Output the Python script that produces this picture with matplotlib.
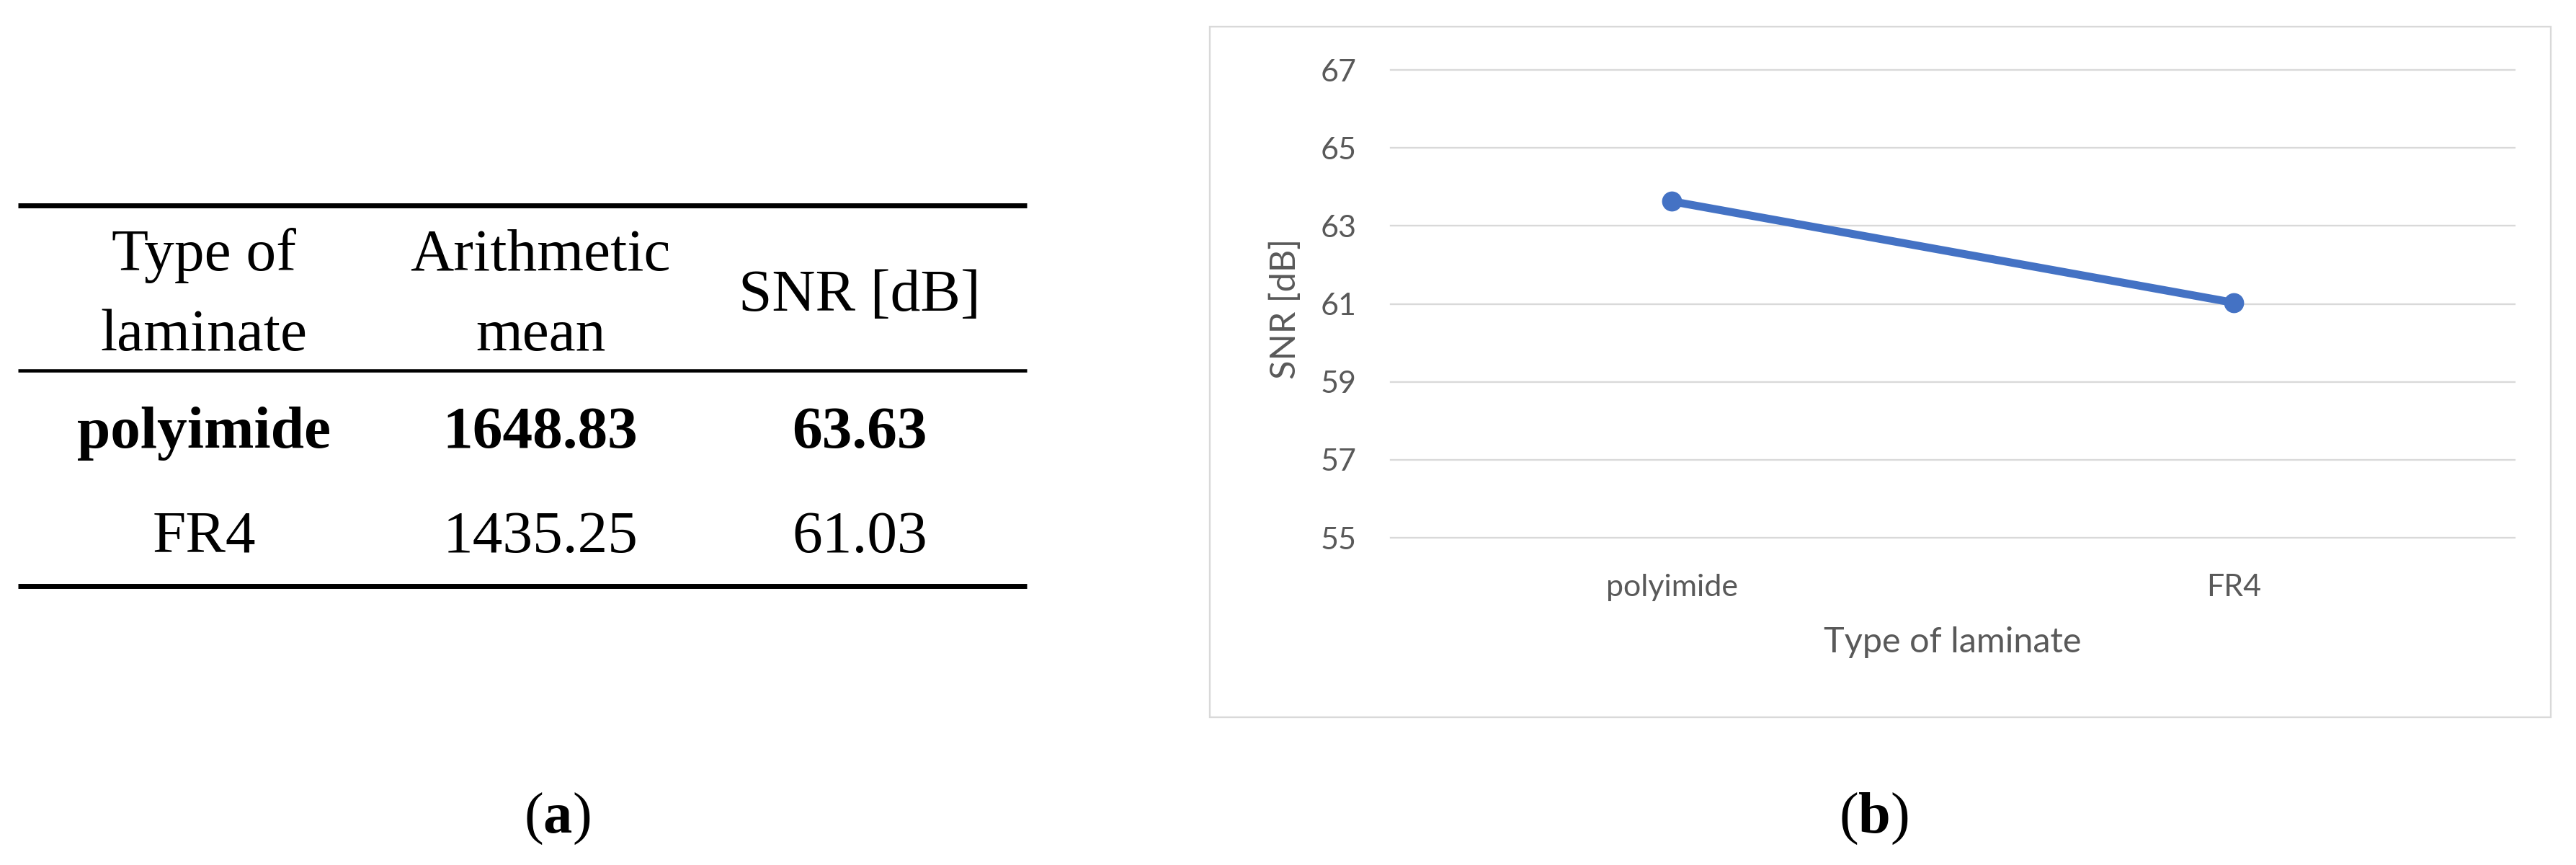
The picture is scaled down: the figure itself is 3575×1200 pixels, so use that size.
import matplotlib
matplotlib.use("Agg")
import matplotlib.pyplot as plt
from matplotlib.patches import Rectangle

# Table data (panel a)
header_col1 = ["Type of", "laminate"]
header_col2 = ["Arithmetic", "mean"]
header_col3 = "SNR [dB]"
laminates = ["polyimide", "FR4"]
arith_mean = ["1648.83", "1435.25"]
snr_text = ["63.63", "61.03"]
bold_rows = [True, False]

# Chart data (panel b)
categories = ["polyimide", "FR4"]
snr_values = [63.63, 61.03]
y_ticks = [55, 57, 59, 61, 63, 65, 67]

plt.rcParams["mathtext.fontset"] = "custom"
plt.rcParams["mathtext.rm"] = "Liberation Serif"
plt.rcParams["mathtext.bf"] = "Liberation Serif:bold"

fig = plt.figure(figsize=(35.75, 12), dpi=100)

# Left side: table drawn in pixel-like coordinates
tab = fig.add_axes([0, 0, 1, 1])
tab.set_xlim(0, 3575)
tab.set_ylim(1200, 0)
tab.axis("off")

serif = "Liberation Serif"
fs = 60
col_x = [283, 750, 1193]

tab.hlines(285, 25, 1425, color="black", lw=5)
tab.hlines(514, 25, 1425, color="black", lw=3.3)
tab.hlines(813, 25, 1425, color="black", lw=5)

for line, yb in zip(header_col1, [375, 486]):
    tab.text(col_x[0], yb, line, ha="center", va="baseline", fontsize=fs, family=serif)
for line, yb in zip(header_col2, [375, 486]):
    tab.text(col_x[1], yb, line, ha="center", va="baseline", fontsize=fs, family=serif)
tab.text(col_x[2], 431, header_col3, ha="center", va="baseline", fontsize=fs, family=serif)

for row, yb in enumerate([621, 766]):
    weight = "bold" if bold_rows[row] else "normal"
    for cx, val in zip(col_x, [laminates[row], arith_mean[row], snr_text[row]]):
        tab.text(cx, yb, val, ha="center", va="baseline", fontsize=fs,
                 family=serif, fontweight=weight)

# sub-figure captions
tab.text(773, 1135, r"$\mathrm{(}\mathbf{a}\mathrm{)}$", ha="center", va="center", fontsize=58)
tab.text(2600, 1135, r"$\mathrm{(}\mathbf{b}\mathrm{)}$", ha="center", va="center", fontsize=58)

# Right side: line chart in an Excel-like frame
frame = Rectangle((0.4697, 0.1708), 0.5205, 0.7984, transform=fig.transFigure,
                  fill=False, edgecolor="#D9D9D9", lw=1.7)
fig.patches.append(frame)

ax = fig.add_axes([0.5399, 0.3783, 0.4364, 0.5408])
x_pos = list(range(len(categories)))
ax.plot(x_pos, snr_values, color="#4472C4", lw=8, marker="o", markersize=19,
        solid_capstyle="round", zorder=3)

ax.set_xlim(-0.5, len(categories) - 0.5)
ax.set_ylim(55, 67)
ax.set_yticks(y_ticks)
ax.set_xticks(x_pos)
ax.set_xticklabels(categories)

chart_font = "Lato"
grey = "#595959"
ax.tick_params(axis="both", length=0, labelsize=31, labelcolor=grey)
ax.tick_params(axis="y", pad=34)
ax.tick_params(axis="x", pad=36)
for lab in ax.get_xticklabels() + ax.get_yticklabels():
    lab.set_family(chart_font)

ax.yaxis.grid(True, color="#D9D9D9", lw=1.7)
for gl in ax.get_ygridlines():
    gl.set_clip_on(False)
for sp in ax.spines.values():
    sp.set_visible(False)

ax.set_xlabel("Type of laminate", fontsize=35, color=grey, family=chart_font)
ax.set_ylabel("SNR [dB]", fontsize=35, color=grey, family=chart_font)
ax.xaxis.label.set_va("center")
ax.xaxis.set_label_coords(0.5, -0.223)
ax.yaxis.label.set_va("center")
ax.yaxis.set_label_coords(-0.094, 0.49)

fig.savefig("out.png", dpi=100)
